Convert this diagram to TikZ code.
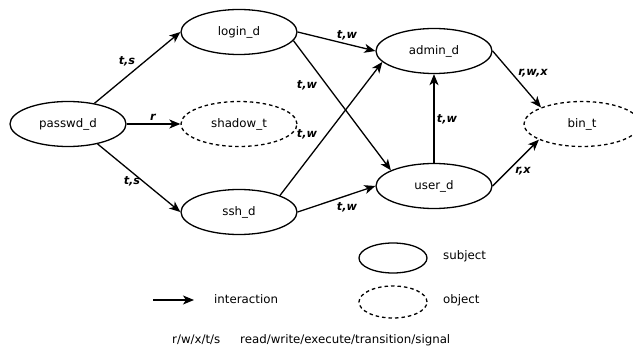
\documentclass[tikz,border=0pt]{standalone}
\usepackage{fontspec}
\setmainfont{DejaVu Sans}
\usetikzlibrary{arrows.meta,shapes.geometric}

\tikzset{
  subj/.style={ellipse, draw, line width=1.3pt, minimum width=116pt, minimum height=45pt, inner sep=0pt},
  obj/.style={subj, dash pattern=on 3.5pt off 3pt},
  flow/.style={line width=1.3pt, -{Stealth[length=11pt,width=9pt,inset=3pt]}},
  lbl/.style={font=\fontsize{11.3}{13}\selectfont\bfseries\itshape, inner sep=0pt},
  txt/.style={font=\fontsize{11.8}{14}\selectfont, inner sep=0pt},
}

\begin{document}
\begin{tikzpicture}[x=1pt, y=-1pt, font=\fontsize{11.8}{14}\selectfont]
\useasboundingbox (0,0) rectangle (633,350);

% domains and types
\node[subj] (passwd) at (68,124) {passwd\_d};
\node[subj] (login)  at (239,32) {login\_d};
\node[obj]  (shadow) at (239,124) {shadow\_t};
\node[subj] (ssh)    at (239,212) {ssh\_d};
\node[subj] (admin)  at (434,51) {admin\_d};
\node[subj] (user)   at (434,186) {user\_d};
\node[obj]  (bin)    at (582,124) {bin\_t};

% interactions
\draw[flow] (passwd.38) -- (login.west);
\draw[flow] (passwd.east) -- (shadow.west);
\draw[flow] (passwd.-34) -- (ssh.west);
\draw[flow] (login.east) -- (admin.west);
\draw[flow] (login.-9) -- (user.160);
\draw[flow] (ssh.22) -- (admin.-168);
\draw[flow] (ssh.east) -- (user.west);
\draw[flow] (user.north) -- (admin.south);
\draw[flow] (admin.east) -- (bin.158);
\draw[flow] (user.east) -- (bin.-160);

% permission labels
\node[lbl] (l1)  at (127,61)  {t,s};
\node[lbl] (l2)  at (153,117) {r};
\node[lbl] (l3)  at (132,181) {t,s};
\node[lbl] (l4)  at (347,35)  {t,w};
\node[lbl] (l5)  at (307,85)  {t,w};
\node[lbl] (l6)  at (307,134) {t,w};
\node[lbl] (l7)  at (347,207) {t,w};
\node[lbl] (l8)  at (447,119) {t,w};
\node[lbl] (l9)  at (533,73)  {r,w,x};
\node[lbl] (l10) at (523,171) {r,x};

% legend
\node[subj, minimum width=68pt, minimum height=30pt] (lsubj) at (393,258) {};
\node[obj, minimum width=68pt, minimum height=32pt] (lobj) at (393,302) {};
\node[txt, anchor=west] (tsubj) at (443,256) {subject};
\node[txt, anchor=west] (tobj) at (443,300) {object};
\coordinate (a0) at (153,300);
\coordinate (a1) at (194,300);
\draw[flow] (a0) -- (a1);
\node[txt, anchor=west] (tint) at (214,299) {interaction};
\node[txt, anchor=west] (tabbr) at (172,340) {r/w/x/t/s};
\node[txt, anchor=west] (tfull) at (240,340) {read/write/execute/transition/signal};
\end{tikzpicture}
\end{document}
